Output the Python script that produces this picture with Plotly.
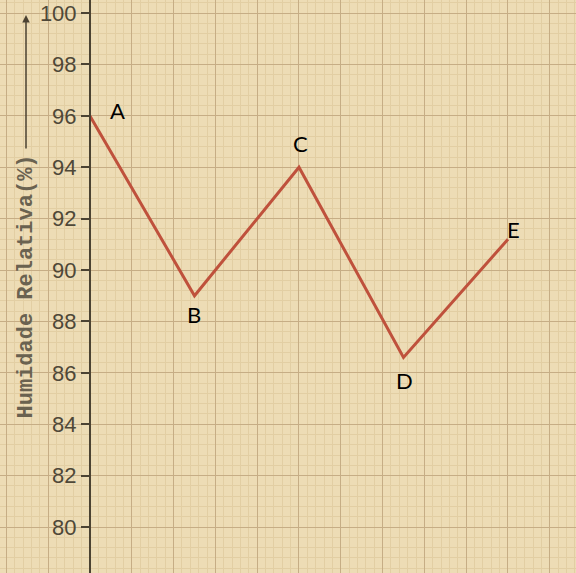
import plotly.graph_objects as go

# dados
pontos = ["A", "B", "C", "D", "E"]
posicao = [0, 2.5, 5, 7.5, 10]          # em quadrículas grandes do papel
humidade = [96, 89, 94, 86.6, 91.2]

ticks_y = list(range(80, 101, 2))

# deslocamento das letras em relação ao ponto (px)
desloc_x = [28, 0, 2, 1, 6]
desloc_y = [5, -19, 24, -23, 10]

PAPEL = "#eddcb5"
GRELHA = "#c6ad85"
GRELHA_FINA = "#e2cea3"
TINTA = "#4b4232"

fig = go.Figure()

fig.add_trace(go.Scatter(
    x=posicao, y=humidade,
    mode="lines",
    line=dict(color="#bf513c", width=3),
    hoverinfo="skip",
    showlegend=False,
))

for p, x, y, dx, dy in zip(pontos, posicao, humidade, desloc_x, desloc_y):
    fig.add_annotation(
        x=x, y=y, text=p, showarrow=False,
        xshift=dx, yshift=dy,
        font=dict(family="Lato, Open Sans, sans-serif", size=22, color="black"),
    )

# seta do título do eixo
fig.add_annotation(
    xref="paper", yref="paper", x=26 / 576, y=1 - 15 / 573,
    ax=0, ay=135, text="", showarrow=True,
    arrowhead=2, arrowsize=1, arrowwidth=1.5, arrowcolor=TINTA,
)

fig.update_xaxes(
    range=[-2.153, 11.627],
    showticklabels=False, ticks="",
    showgrid=True, gridcolor=GRELHA, gridwidth=1,
    dtick=1, tick0=0,
    minor=dict(dtick=0.2, showgrid=True, gridcolor=GRELHA_FINA, gridwidth=1),
    zeroline=False, showline=False,
)

fig.update_yaxes(
    range=[78.21, 100.51],
    anchor="free", position=90 / 576,
    tickvals=ticks_y,
    ticks="outside", ticklen=8, tickwidth=2, tickcolor=TINTA,
    tickfont=dict(family="Liberation Sans, Arial, sans-serif", size=22, color="#4f4838"),
    showline=True, linecolor=TINTA, linewidth=2,
    showgrid=True, gridcolor=GRELHA, gridwidth=1,
    minor=dict(dtick=0.4, showgrid=True, gridcolor=GRELHA_FINA, gridwidth=1),
    zeroline=False,
    title=dict(
        text="<b>Humidade Relativa(%)</b>",
        font=dict(family="Liberation Mono, DejaVu Sans Mono, monospace", size=22, color="#6a6250"),
        standoff=0,
    ),
)

fig.update_layout(
    width=576, height=573,
    margin=dict(l=0, r=0, t=0, b=0),
    paper_bgcolor=PAPEL,
    plot_bgcolor=PAPEL,
)

fig.write_html(
    "out.html",
    config={"displayModeBar": False},
    post_script="document.body.style.margin='0';",
)
